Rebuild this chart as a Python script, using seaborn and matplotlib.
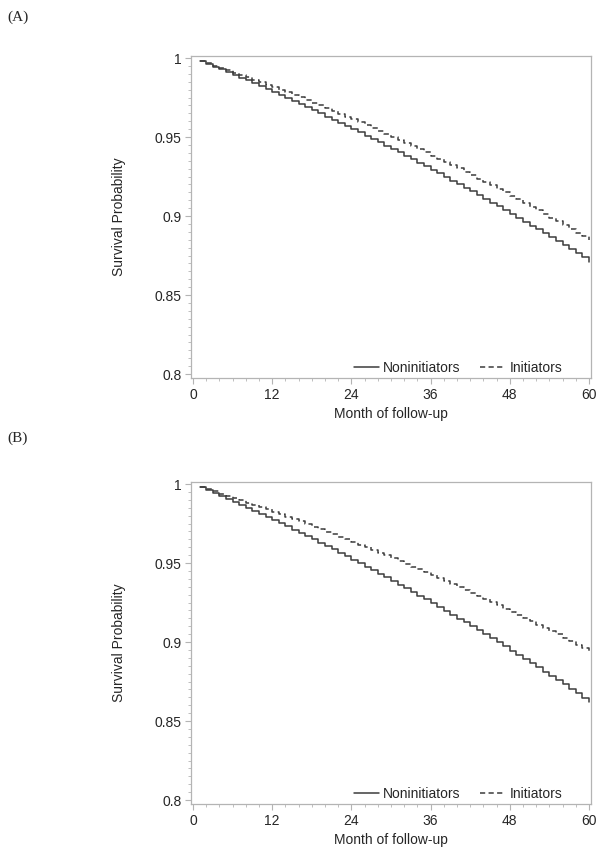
# ============================================================
# Kurva survival: Noninitiators vs Initiators, panel (A) dan (B)
# ============================================================

import pandas as pd
import seaborn as sns
import matplotlib.pyplot as plt
from matplotlib.ticker import MultipleLocator


# ============================================================
# 1. DATA (bulan 1 sampai 60)
# ============================================================

months = list(range(1, 61))

a_noninitiators = [
    0.9980, 0.9963, 0.9946, 0.9929, 0.9911, 0.9893, 0.9876, 0.9858, 0.9840, 0.9821,
    0.9803, 0.9784, 0.9766, 0.9747, 0.9728, 0.9709, 0.9689, 0.9670, 0.9650, 0.9630,
    0.9611, 0.9590, 0.9570, 0.9550, 0.9529, 0.9508, 0.9488, 0.9467, 0.9445, 0.9424,
    0.9403, 0.9381, 0.9359, 0.9337, 0.9315, 0.9293, 0.9270, 0.9248, 0.9225, 0.9202,
    0.9179, 0.9156, 0.9133, 0.9109, 0.9085, 0.9062, 0.9038, 0.9014, 0.8989, 0.8965,
    0.8940, 0.8915, 0.8891, 0.8865, 0.8840, 0.8815, 0.8789, 0.8764, 0.8738, 0.8712,
]
a_initiators = [
    0.9980, 0.9966, 0.9952, 0.9937, 0.9923, 0.9908, 0.9893, 0.9878, 0.9863, 0.9848,
    0.9832, 0.9816, 0.9800, 0.9784, 0.9768, 0.9751, 0.9734, 0.9718, 0.9700, 0.9683,
    0.9666, 0.9648, 0.9630, 0.9612, 0.9594, 0.9576, 0.9557, 0.9539, 0.9520, 0.9501,
    0.9482, 0.9462, 0.9443, 0.9423, 0.9403, 0.9383, 0.9363, 0.9342, 0.9322, 0.9301,
    0.9280, 0.9258, 0.9237, 0.9216, 0.9194, 0.9172, 0.9150, 0.9127, 0.9105, 0.9082,
    0.9060, 0.9037, 0.9013, 0.8990, 0.8966, 0.8943, 0.8919, 0.8895, 0.8871, 0.8846,
]
b_noninitiators = [
    0.9980, 0.9962, 0.9944, 0.9925, 0.9907, 0.9888, 0.9869, 0.9850, 0.9831, 0.9812,
    0.9792, 0.9772, 0.9753, 0.9732, 0.9712, 0.9692, 0.9671, 0.9650, 0.9629, 0.9608,
    0.9587, 0.9565, 0.9544, 0.9522, 0.9500, 0.9478, 0.9455, 0.9433, 0.9410, 0.9387,
    0.9364, 0.9341, 0.9318, 0.9294, 0.9270, 0.9246, 0.9222, 0.9198, 0.9174, 0.9149,
    0.9124, 0.9099, 0.9074, 0.9049, 0.9023, 0.8998, 0.8972, 0.8946, 0.8920, 0.8893,
    0.8867, 0.8840, 0.8813, 0.8786, 0.8759, 0.8732, 0.8704, 0.8676, 0.8648, 0.8620,
]
b_initiators = [
    0.9980, 0.9967, 0.9953, 0.9939, 0.9925, 0.9911, 0.9897, 0.9883, 0.9868, 0.9853,
    0.9839, 0.9824, 0.9809, 0.9793, 0.9778, 0.9763, 0.9747, 0.9731, 0.9715, 0.9699,
    0.9683, 0.9667, 0.9650, 0.9634, 0.9617, 0.9600, 0.9583, 0.9566, 0.9548, 0.9531,
    0.9513, 0.9495, 0.9478, 0.9460, 0.9441, 0.9423, 0.9405, 0.9386, 0.9367, 0.9348,
    0.9329, 0.9310, 0.9291, 0.9271, 0.9252, 0.9232, 0.9212, 0.9192, 0.9172, 0.9152,
    0.9131, 0.9110, 0.9090, 0.9069, 0.9048, 0.9027, 0.9005, 0.8984, 0.8962, 0.8941,
]

x_ticks = [0, 12, 24, 36, 48, 60]
y_ticks = [0.8, 0.85, 0.9, 0.95, 1.0]
y_tick_labels = ["0.8", "0.85", "0.9", "0.95", "1"]

panels = [
    ("(A)", a_noninitiators, a_initiators),
    ("(B)", b_noninitiators, b_initiators),
]


# ============================================================
# 2. STYLE
# ============================================================

sns.set_style("white")
plt.rcParams['font.family'] = ['Liberation Sans', 'DejaVu Sans']

line_color = "#3c3c3c"
frame_color = "#b4b4b4"
fs = 10

fig = plt.figure(figsize=(6.04, 8.58), dpi=100)

# posisi axes (dalam koordinat figure)
ax_boxes = [
    [191 / 604, 1 - 378 / 858, 400 / 604, 322 / 858],
    [191 / 604, 1 - 804 / 858, 400 / 604, 322 / 858],
]
label_y = [1 - 17 / 858, 1 - 438 / 858]


# ============================================================
# 3. PLOT
# ============================================================

for (tag, non, ini), box, ly in zip(panels, ax_boxes, label_y):
    ax = fig.add_axes(box)

    df = pd.DataFrame({
        'month': months * 2,
        'surv': non + ini,
        'group': ['Noninitiators'] * len(months) + ['Initiators'] * len(months),
    })

    sns.lineplot(data=df[df['group'] == 'Noninitiators'], x='month', y='surv',
                 ax=ax, color=line_color, lw=1.1, drawstyle='steps-post',
                 label='Noninitiators')
    sns.lineplot(data=df[df['group'] == 'Initiators'], x='month', y='surv',
                 ax=ax, color=line_color, lw=1.1, drawstyle='steps-post',
                 label='Initiators')
    ax.lines[1].set_dashes((3.4, 2.2))

    ax.set_xlim(-0.3, 60.3)
    ax.set_ylim(0.7975, 1.0013)
    ax.set_xticks(x_ticks)
    ax.set_yticks(y_ticks)
    ax.set_yticklabels(y_tick_labels)
    ax.xaxis.set_minor_locator(MultipleLocator(2))
    ax.yaxis.set_minor_locator(MultipleLocator(0.005))

    ax.tick_params(which='major', direction='out', length=4, width=0.8,
                   color=frame_color, labelsize=fs, pad=3, left=True, bottom=True)
    ax.tick_params(which='minor', direction='out', length=2.5, width=0.6,
                   color=frame_color, left=True, bottom=True)

    for sp in ax.spines.values():
        sp.set_color(frame_color)
        sp.set_linewidth(0.9)

    ax.set_xlabel("Month of follow-up", fontsize=fs, labelpad=4)
    ax.set_ylabel("Survival Probability", fontsize=fs, labelpad=20)

    leg = ax.legend(loc='lower right', bbox_to_anchor=(0.935, 0.0), ncol=2,
                    frameon=False, fontsize=fs, handlelength=1.8,
                    handletextpad=0.3, columnspacing=1.4, borderpad=0.2,
                    borderaxespad=0.0)

    fig.text(0.013, ly, tag, fontsize=11, family='Liberation Serif',
             va='center', ha='left')

plt.savefig("out.png", dpi=100)
